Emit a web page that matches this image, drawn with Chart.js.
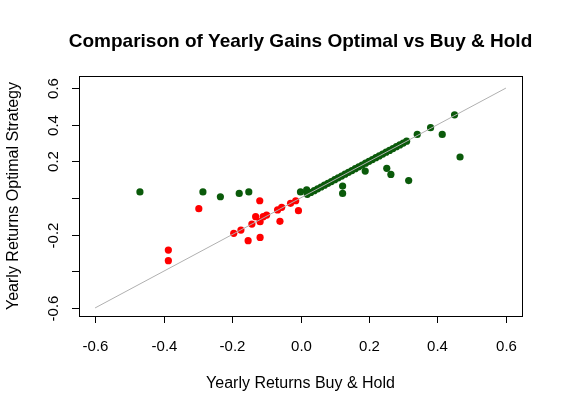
<!DOCTYPE html>
<html>
<head>
<script src="https://cdn.jsdelivr.net/npm/chart.js@4"></script>
<style>body{margin:0;background:#fff}#wrap{width:563px;height:415px}</style>
</head>
<body>
<div id="wrap"><canvas id="c"></canvas></div>
<script>
// optimal strategy beat / matched buy & hold (green) vs lost (red)
let greenX = [-0.469, -0.285, -0.234, -0.179, -0.151, 0.0, 0.018, 0.123, 0.123, 0.189, 0.252, 0.264, 0.316, 0.341, 0.380, 0.414, 0.450, 0.466,
  0.02, 0.03, 0.04, 0.05, 0.06, 0.07, 0.08, 0.09, 0.10, 0.11, 0.12, 0.13, 0.14, 0.15, 0.16, 0.17, 0.18, 0.19, 0.20, 0.21, 0.22, 0.23, 0.24, 0.25, 0.26, 0.27, 0.28, 0.29, 0.30, 0.31];
let greenY = [0.033, 0.033, 0.007, 0.025, 0.033, 0.033, 0.044, 0.065, 0.025, 0.147, 0.162, 0.129, 0.095, 0.347, 0.384, 0.347, 0.454, 0.224,
  0.02, 0.03, 0.04, 0.05, 0.06, 0.07, 0.08, 0.09, 0.10, 0.11, 0.12, 0.13, 0.14, 0.15, 0.16, 0.17, 0.18, 0.19, 0.20, 0.21, 0.22, 0.23, 0.24, 0.25, 0.26, 0.27, 0.28, 0.29, 0.30, 0.31];
let redX = [-0.119, -0.297, -0.386, -0.386, -0.153, -0.118, -0.195, -0.174, -0.142, -0.131, -0.118, -0.109, -0.099, -0.060, -0.067, -0.055, -0.029, -0.014, -0.006];
let redY = [-0.015, -0.058, -0.284, -0.342, -0.233, -0.215, -0.193, -0.175, -0.142, -0.102, -0.129, -0.102, -0.093, -0.127, -0.065, -0.051, -0.029, -0.015, -0.069];
let ticks = [-0.6, -0.4, -0.2, 0.0, 0.2, 0.4, 0.6];
let xTickLabels = ['-0.6', '-0.4', '-0.2', '0.0', '0.2', '0.4', '0.6'];
let yTickLabels = ['-0.6', '', '-0.2', '', '0.2', '0.4', '0.6'];

const pts = (xs, ys) => xs.map((x, i) => ({x: x, y: ys[i]}));

const rAxes = {
  id: 'rAxes',
  afterDraw(chart) {
    const c = chart.ctx, a = chart.chartArea, sx = chart.scales.x, sy = chart.scales.y;
    c.save();
    c.strokeStyle = '#000'; c.lineWidth = 1; c.fillStyle = '#000';
    c.strokeRect(a.left + 0.5, a.top + 0.5, a.right - a.left, a.bottom - a.top);
    c.font = '15px "Liberation Sans", Arial';
    c.textAlign = 'center'; c.textBaseline = 'top';
    // x axis
    c.beginPath();
    c.moveTo(sx.getPixelForValue(-0.6), a.bottom + 0.5); c.lineTo(sx.getPixelForValue(0.6), a.bottom + 0.5);
    ticks.forEach((t, i) => {
      const px = Math.round(sx.getPixelForValue(t)) + 0.5;
      c.moveTo(px, a.bottom); c.lineTo(px, a.bottom + 7);
      c.fillText(xTickLabels[i], px, a.bottom + 23);
    });
    // y axis
    ticks.forEach((t, i) => {
      const py = Math.round(sy.getPixelForValue(t)) + 0.5;
      c.moveTo(a.left, py); c.lineTo(a.left - 7, py);
      if (yTickLabels[i]) {
        c.save(); c.translate(a.left - 24, py); c.rotate(-Math.PI / 2);
        c.textBaseline = 'bottom'; c.fillText(yTickLabels[i], 0, 6); c.restore();
      }
    });
    c.stroke();
    c.font = '16px "Liberation Sans", Arial';
    c.fillText('Yearly Returns Buy & Hold', (a.left + a.right) / 2, 376);
    c.save(); c.translate(14, (a.top + a.bottom) / 2); c.rotate(-Math.PI / 2);
    c.textBaseline = 'middle'; c.fillText('Yearly Returns Optimal Strategy', 0, 0); c.restore();
    c.font = 'bold 19px "Liberation Sans", Arial';
    c.textBaseline = 'middle';
    c.fillText('Comparison of Yearly Gains Optimal vs Buy & Hold', (a.left + a.right) / 2, 42);
    c.restore();
  }
};

new Chart(document.getElementById('c'), {
  type: 'scatter',
  data: {
    datasets: [
      {type: 'line', data: [{x: -0.6, y: -0.6}, {x: 0.6, y: 0.6}], borderColor: '#b0b0b0', borderWidth: 1, pointRadius: 0},
      {data: pts(greenX, greenY), backgroundColor: '#0a5a0a', borderColor: '#0a5a0a', pointRadius: 3.6, borderWidth: 0},
      {data: pts(redX, redY), backgroundColor: '#ff0000', borderColor: '#ff0000', pointRadius: 3.6, borderWidth: 0}
    ]
  },
  options: {
    responsive: true, maintainAspectRatio: false, animation: false,
    layout: {padding: {left: 79, right: 41, top: 76, bottom: 99}},
    plugins: {legend: {display: false}, tooltip: {enabled: false}},
    scales: {
      x: {display: false, min: -0.647, max: 0.647},
      y: {display: false, min: -0.644, max: 0.666}
    }
  },
  plugins: [rAxes]
});
</script>
</body>
</html>
